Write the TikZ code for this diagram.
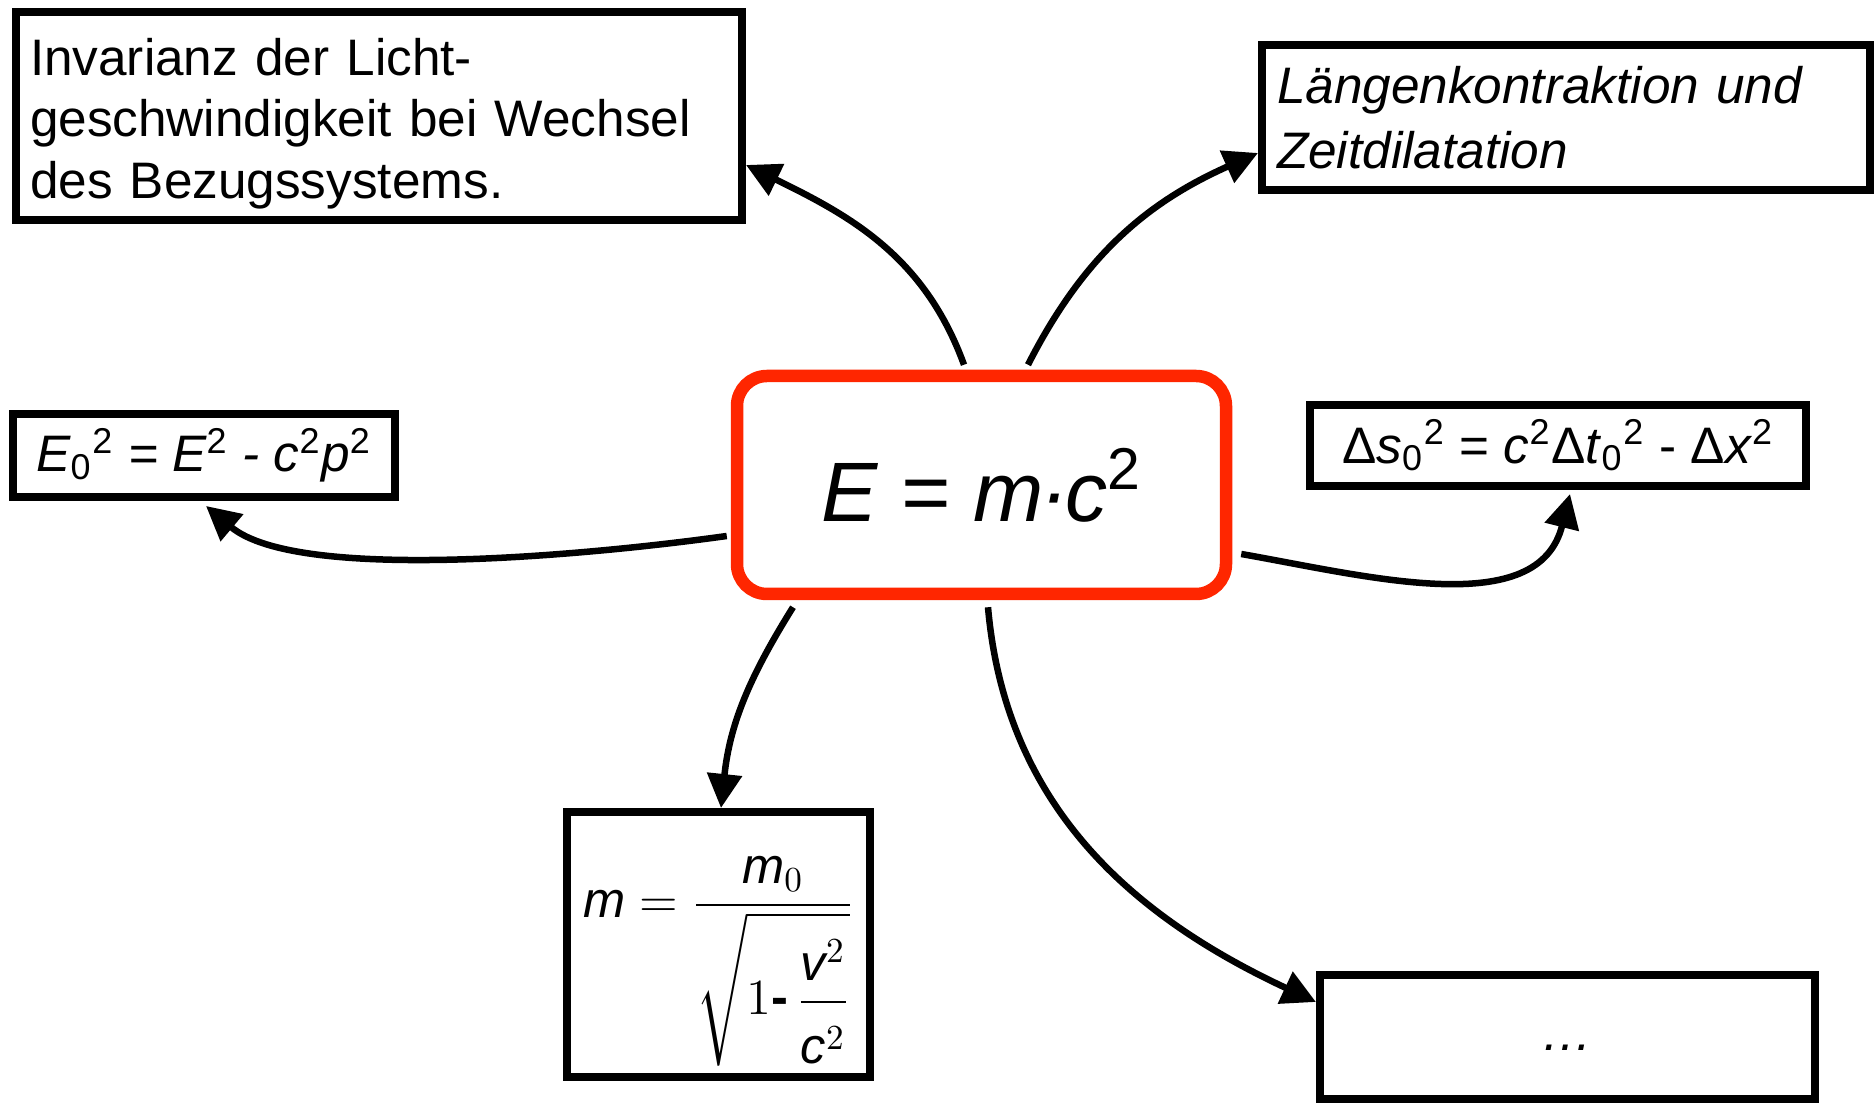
\documentclass[tikz,border=0pt]{standalone}
\usepackage{amsmath}
\usepackage{fontspec}
\setmainfont{Liberation Sans}
\usepackage{tikz}
\usetikzlibrary{positioning}
\usetikzlibrary{arrows.meta}
\definecolor{emcred}{RGB}{255,38,0}

\begin{document}
\begin{tikzpicture}[
    box/.style={draw, line width=0.08cm, inner sep=0pt, fill=white},
    arr/.style={line width=0.065cm, -{Triangle[length=0.34cm, width=0.34cm]}},
    txt/.style={font=\fontsize{14.6}{17.5}\selectfont}
]
    \useasboundingbox (0,0) rectangle (18.75,-11.04);

    \node [draw=emcred, line width=0.125cm, rounded corners=0.3cm, minimum width=4.89cm, minimum height=2.18cm, font=\fontsize{24}{28}\selectfont\itshape] (emc) at (9.815,-4.85) {E = m\kern-0.04em·\kern-0.04em c\textsuperscript{\upshape 2}};

    \node [box, txt, text width=6.98cm, inner xsep=0.14cm, minimum height=2.08cm, text height=0.52cm, align=left] (inv) at (3.79,-1.16) {Invarianz der Licht-\\geschwindigkeit bei Wechsel\\des Bezugssystems.};
    \node [box, font=\fontsize{14.6}{18.4}\selectfont\itshape, text width=5.78cm, inner xsep=0.15cm, minimum height=1.45cm, align=left] (lz) at (15.66,-1.175) {Längenkontraktion und\\Zeitdilatation};

    \node [box, txt, minimum width=3.82cm, minimum height=0.83cm] (e0) at (2.04,-4.555) {\itshape E\textsubscript{\upshape 0}\textsuperscript{\upshape 2} = E\textsuperscript{\upshape 2} - c\textsuperscript{\upshape 2}p\textsuperscript{\upshape 2}};
    \node [box, txt, minimum width=4.96cm, minimum height=0.81cm] (ds) at (15.58,-4.455) {Δ\textit{s}\textsubscript{0}\textsuperscript{2} = \textit{c}\textsuperscript{2}Δ\textit{t}\textsubscript{0}\textsuperscript{2} - Δ\textit{x}\textsuperscript{2}};

    \node [box, minimum width=3.03cm, minimum height=2.65cm, text height=1.0cm, text depth=1.53cm] (mass) at (7.185,-9.445) {\fontsize{14.4}{18}\selectfont $\textit{m} = \dfrac{\textit{m}_0}{\sqrt{1\mbox{\textbf{-}}\,\dfrac{\rule{0pt}{17pt}\textit{v}^2}{\rule{0pt}{15.5pt}\textit{c}^2}}}$};
    \node [box, txt, minimum width=4.95cm, minimum height=1.24cm, text height=0.28cm] (dots) at (15.675,-10.37) {\itshape …};

    \draw [arr] ([xshift=-0.175cm, yshift=0.05cm]emc.north) to [out=110, in=-26] ([yshift=-0.49cm]inv.east);
    \draw [arr] ([xshift=0.465cm, yshift=0.05cm]emc.north) to [out=63, in=-156] ([yshift=-0.355cm]lz.west);
    \draw [arr] ([xshift=-0.04cm, yshift=-0.51cm]emc.west) to [out=188, in=-40, looseness=0.6] ([xshift=0.02cm, yshift=-0.05cm]e0.south);
    \draw [arr] ([xshift=0.09cm, yshift=-0.69cm]emc.east) to [out=-10, in=-104] ([xshift=0.12cm, yshift=-0.04cm]ds.south);
    \draw [arr] ([xshift=-1.885cm, yshift=-0.07cm]emc.south) to [out=-122, in=84] ([xshift=0.025cm]mass.north);
    \draw [arr] ([xshift=0.065cm, yshift=-0.07cm]emc.south) to [out=-85, in=155] ([yshift=0.35cm]dots.west);

\end{tikzpicture}
\end{document}
